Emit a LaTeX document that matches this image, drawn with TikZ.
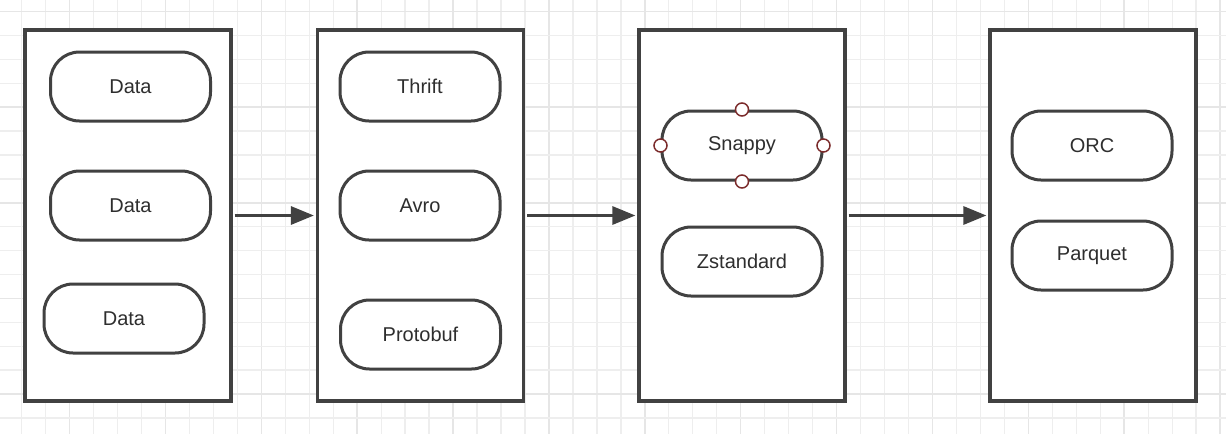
\documentclass[tikz,border=0pt]{standalone}
\usepackage{fontspec}
\setmainfont{Liberation Sans}
\usepackage{xcolor}
\usetikzlibrary{arrows.meta,positioning}

\definecolor{gridminor}{HTML}{EEEEEE}
\definecolor{gridmajor}{HTML}{E6E6E6}
\definecolor{edge}{HTML}{414141}
\definecolor{ink}{HTML}{2E2E2E}
\definecolor{handle}{HTML}{7B2B2B}

\begin{document}
\begin{tikzpicture}[
  x=1pt, y=-1pt,
  column/.style={rectangle, draw=edge, fill=white, line width=3.2pt, minimum width=206pt, minimum height=371pt, inner sep=0pt},
  pill/.style={rectangle, rounded corners=29pt, draw=edge, fill=white, line width=3pt, minimum width=160pt, minimum height=69pt, text=ink, font=\fontsize{20}{24}\selectfont},
  arr/.style={-{Triangle[length=23pt,width=18pt]}, draw=edge, line width=3pt, shorten >=2pt, shorten <=2pt},
  knob/.style={circle, draw=handle, fill=white, line width=1.5pt, minimum size=13pt, inner sep=0pt}
]
\useasboundingbox[fill=white] (0,0) rectangle (1226,434);

% grid
\foreach \k in {0,...,50} {
  \pgfmathtruncatemacro{\major}{mod(\k-2,4)==0}
  \ifnum\major=1
    \draw[gridmajor, line width=1.5pt] ({21.6+23.97*\k},0) -- ({21.6+23.97*\k},434);
  \else
    \draw[gridminor, line width=1.3pt] ({21.6+23.97*\k},0) -- ({21.6+23.97*\k},434);
  \fi
}
\foreach \k in {0,...,17} {
  \pgfmathtruncatemacro{\major}{mod(\k,4)==0}
  \ifnum\major=1
    \draw[gridmajor, line width=1.5pt] (0,{11.6+23.9*\k}) -- (1226,{11.6+23.9*\k});
  \else
    \draw[gridminor, line width=1.3pt] (0,{11.6+23.9*\k}) -- (1226,{11.6+23.9*\k});
  \fi
}

% columns
\node[column] (src) at (128,215.5) {};
\node[column] (fmt) at (420.5,215.5) {};
\node[column] (comp) at (742,215.5) {};
\node[column] (store) at (1093,215.5) {};

% first column
\node[pill] (data1) at (130.5,86.5) {Data};
\node[pill] (data2) at (130.5,205.5) {Data};
\node[pill] (data3) at (124,318.5) {Data};

% second column
\node[pill] (thrift) at (420,86.5) {Thrift};
\node[pill] (avro) at (420,205.5) {Avro};
\node[pill] (protobuf) at (420.5,334.5) {Protobuf};

% third column
\node[pill] (snappy) at (742,145.5) {Snappy};
\node[pill] (zstd) at (742,261.5) {Zstandard};

% fourth column
\node[pill] (orc) at (1092,145.5) {ORC};
\node[pill] (parquet) at (1092,255.5) {Parquet};

% selection handles
\node[knob] at (snappy.north) {};
\node[knob] at (snappy.south) {};
\node[knob] at (snappy.west) {};
\node[knob] at (snappy.east) {};

\draw[arr] (src.east) -- (fmt.west);
\draw[arr] (fmt.east) -- (comp.west);
\draw[arr] (comp.east) -- (store.west);
\end{tikzpicture}
\end{document}
